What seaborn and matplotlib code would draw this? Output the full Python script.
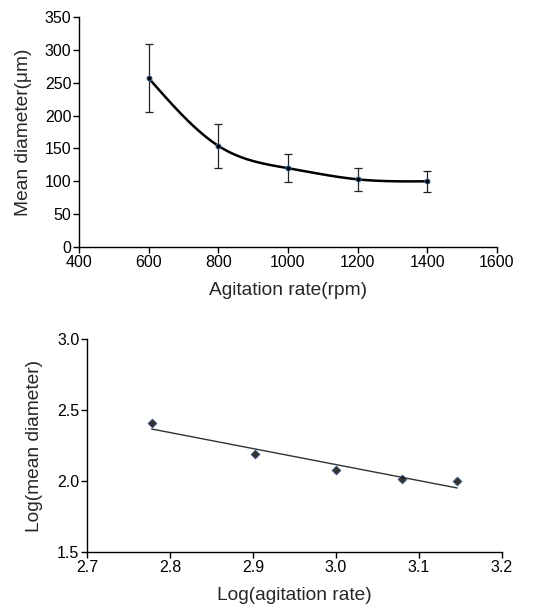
import matplotlib
matplotlib.use('Agg')
import matplotlib.pyplot as plt
import seaborn as sns
import pandas as pd
import numpy as np

# values
rate = [600, 800, 1000, 1200, 1400]
diameter = [257, 154, 120, 103, 100]
diameter_err = [52, 33, 21, 17, 16]

log_rate = [2.778, 2.903, 3.000, 3.079, 3.146]
log_diameter = [2.410, 2.188, 2.080, 2.013, 2.000]

top_xticks = [400, 600, 800, 1000, 1200, 1400, 1600]
top_yticks = [0, 50, 100, 150, 200, 250, 300, 350]
bot_xticks = [2.7, 2.8, 2.9, 3.0, 3.1, 3.2]
bot_yticks = [1.5, 2.0, 2.5, 3.0]


def natural_spline(x, y, n=200):
    """Smooth curve through the points (natural cubic spline), for the drawn line."""
    x = np.asarray(x, float)
    y = np.asarray(y, float)
    k = len(x)
    h = np.diff(x)
    A = np.zeros((k, k))
    r = np.zeros(k)
    A[0, 0] = A[-1, -1] = 1
    for i in range(1, k - 1):
        A[i, i - 1] = h[i - 1]
        A[i, i] = 2 * (h[i - 1] + h[i])
        A[i, i + 1] = h[i]
        r[i] = 6 * ((y[i + 1] - y[i]) / h[i] - (y[i] - y[i - 1]) / h[i - 1])
    m = np.linalg.solve(A, r)
    xs = np.linspace(x[0], x[-1], n)
    idx = np.clip(np.searchsorted(x, xs) - 1, 0, k - 2)
    t0 = xs - x[idx]
    t1 = x[idx + 1] - xs
    hi = h[idx]
    ys = (m[idx] * t1 ** 3 / (6 * hi) + m[idx + 1] * t0 ** 3 / (6 * hi)
          + (y[idx] / hi - m[idx] * hi / 6) * t1
          + (y[idx + 1] / hi - m[idx + 1] * hi / 6) * t0)
    return xs, ys


sns.set_style('ticks')
plt.rcParams['font.family'] = ['Liberation Sans', 'DejaVu Sans']

fig = plt.figure(figsize=(5.43, 6.09), dpi=100, facecolor='white')
ax1 = fig.add_axes([0.1455, 0.5944, 0.7695, 0.3776])
ax2 = fig.add_axes([0.160, 0.0931, 0.7645, 0.3502])

# --- top panel: mean diameter vs agitation rate
df = pd.DataFrame({'rate': rate, 'diameter': diameter})
xs, ys = natural_spline(rate, diameter)
sns.lineplot(x=xs, y=ys, ax=ax1, color='black', linewidth=1.8)
ax1.errorbar(rate, diameter, yerr=diameter_err, fmt='none', ecolor='#222222',
             elinewidth=0.9, capsize=3, capthick=0.9)
sns.scatterplot(data=df, x='rate', y='diameter', ax=ax1, color='black',
                edgecolor='#4a78b0', linewidth=0.6, s=14, zorder=5)

ax1.set_xlim(400, 1600)
ax1.set_ylim(0, 350)
ax1.set_xticks(top_xticks)
ax1.set_yticks(top_yticks)
ax1.set_xlabel('Agitation rate(rpm)', fontsize=13.8, labelpad=9)
ax1.set_ylabel('Mean diameter(\u03bcm)', fontsize=13.8, labelpad=9)

# --- bottom panel: log-log fit
df2 = pd.DataFrame({'log_rate': log_rate, 'log_diameter': log_diameter})
sns.regplot(data=df2, x='log_rate', y='log_diameter', ax=ax2, ci=None,
            marker='D', scatter_kws={'s': 22, 'color': 'black',
                                     'edgecolors': '#4a78b0', 'linewidths': 0.5, 'zorder': 5},
            line_kws={'color': '#333333', 'linewidth': 1.0})

ax2.set_xlim(2.7, 3.2)
ax2.set_ylim(1.5, 3.0)
ax2.set_xticks(bot_xticks)
ax2.set_yticks(bot_yticks)
ax2.set_xticklabels([f'{v:.1f}' for v in bot_xticks])
ax2.set_yticklabels([f'{v:.1f}' for v in bot_yticks])
ax2.set_xlabel('Log(agitation rate)', fontsize=13.8, labelpad=9)
ax2.set_ylabel('Log(mean diameter)', fontsize=13.8, labelpad=10)

for ax in (ax1, ax2):
    sns.despine(ax=ax)
    for s in ('left', 'bottom'):
        ax.spines[s].set_color('black')
        ax.spines[s].set_linewidth(1.0)
    ax.tick_params(axis='both', direction='out', length=4, width=1.0,
                   colors='black', labelsize=11.5, pad=1.5)

fig.savefig('out.png', dpi=100, facecolor='white')
